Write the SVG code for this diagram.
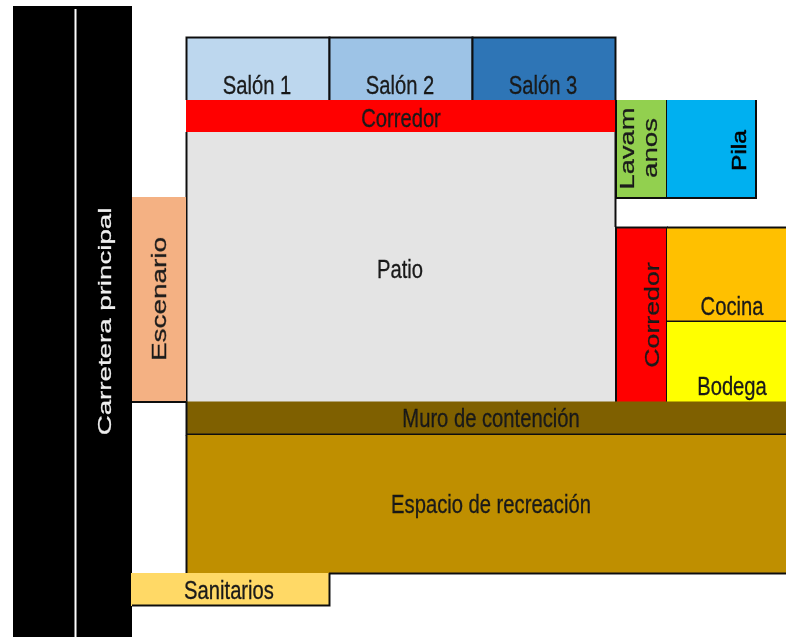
<svg xmlns="http://www.w3.org/2000/svg" width="786" height="637" viewBox="0 0 786 637">
<style>
text{font-family:"Liberation Sans",Arial,sans-serif;font-size:20.2px;fill:#1a1a1a;stroke:#1a1a1a;stroke-width:.25;text-anchor:middle}
.v{font-size:19.5px}
.l{fill:none;stroke:#111;stroke-width:2}
</style>
<defs><filter id="s" x="-5%" y="-5%" width="110%" height="110%"><feGaussianBlur stdDeviation="0.6"/></filter></defs>
<rect width="786" height="637" fill="#fff"/>
<g filter="url(#s)">
<g id="carretera"><rect x="13" y="6" width="119" height="631" fill="#000"/><rect x="74.500" y="9" width="2" height="628" fill="#fff"/><text class="v" transform="translate(111,321.500) rotate(-90) scale(1.42,.95)" style="fill:#eee;stroke:#eee">Carretera principal</text></g>
<g id="patio"><rect x="186" y="132" width="430" height="270" fill="#e4e4e4"/><path class="l" d="M186.500 132V402M615.500 132V227"/><text transform="translate(400,277.500) scale(1,1.27)">Patio</text></g>
<g id="escenario"><rect x="132" y="197" width="54" height="205" fill="#f4b183"/><path class="l" d="M132 402H186"/><text class="v" transform="translate(166,299) rotate(-90) scale(1.43,1)">Escenario</text></g>
<g id="salon1"><rect x="186" y="37" width="143.500" height="63.500" fill="#bdd7ee"/><path class="l" d="M186.500 100V37.500H329.500V100"/><text transform="translate(257,94) scale(1,1.27)">Salón 1</text></g>
<g id="salon2"><rect x="329.500" y="37" width="143" height="63.500" fill="#9dc3e6"/><path class="l" d="M329.500 100V37.500H472.500V102"/><text transform="translate(400,94) scale(1,1.27)">Salón 2</text></g>
<g id="salon3"><rect x="472.500" y="37" width="143" height="63.500" fill="#2e75b6"/><path class="l" d="M472.500 102V37.500H615.500V100"/><text transform="translate(543,94) scale(1,1.27)">Salón 3</text></g>
<g id="corredor-h"><rect x="186" y="100" width="429" height="32" fill="#f00"/><text transform="translate(401,126.500) scale(1,1.27)">Corredor</text></g>
<g id="lavamanos"><rect x="616" y="100" width="51" height="98" fill="#92d050"/><path class="l" d="M616 100V198H667V100"/><text class="v" transform="translate(634,148.500) rotate(-90) scale(1.4,1)">Lavam</text><text class="v" transform="translate(657,148) rotate(-90) scale(1.42,1)">anos</text></g>
<g id="pila"><rect x="667" y="100" width="89" height="98" fill="#00b0f0"/><path class="l" d="M667 198H756V100"/><text class="v" transform="translate(746,150.500) rotate(-90) scale(1.26,1)" style="fill:#000;stroke:#000;stroke-width:.5">Pila</text></g>
<g id="corredor-v"><rect x="616" y="227" width="51" height="175" fill="#f00"/><path class="l" d="M616 402V227.500H667V402"/><text class="v" transform="translate(659,315) rotate(-90) scale(1.37,1)">Corredor</text></g>
<g id="cocina"><rect x="667" y="227" width="119" height="94" fill="#ffc000"/><path class="l" d="M667 227.500H786M667 321.500H786"/><text transform="translate(732,315) scale(1,1.27)">Cocina</text></g>
<g id="bodega"><rect x="667" y="322" width="119" height="80" fill="#ff0"/><text transform="translate(732,395) scale(1,1.27)">Bodega</text></g>
<g id="muro"><rect x="186" y="401.500" width="600" height="33" fill="#7f6000"/><path class="l" d="M186.500 401.500V434.500H786"/><text transform="translate(491,426.500) scale(1,1.27)">Muro de contención</text></g>
<g id="recreacion"><rect x="186" y="435" width="600" height="138" fill="#bf8f00"/><path class="l" d="M186.500 435V573M329 573.500H786"/><text transform="translate(491,512.500) scale(1,1.27)">Espacio de recreación</text></g>
<g id="sanitarios"><rect x="131" y="573" width="198" height="33" fill="#ffd966"/><path class="l" d="M132 605.500H329.500V573"/><text transform="translate(229,598.500) scale(1,1.27)">Sanitarios</text></g>
</g>
</svg>
